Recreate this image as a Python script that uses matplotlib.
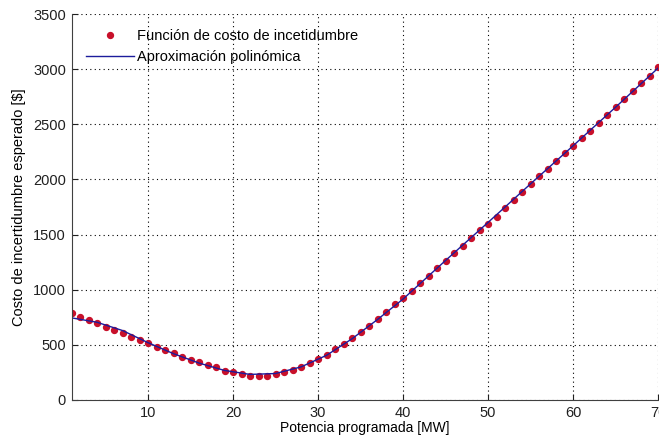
import numpy as np
import matplotlib.pyplot as plt

# expected uncertainty cost, one point per MW
potencia = np.arange(1, 71)
costo = [785, 752, 728, 695, 664, 634, 604, 574, 544, 517,
         481, 451, 424, 394, 367, 343, 316, 295, 262, 253,
         235, 219, 219, 219, 232, 250, 271, 301, 331, 373,
         412, 466, 511, 565, 613, 673, 734, 800, 869, 926,
         992, 1058, 1127, 1197, 1260, 1329, 1398, 1467, 1539, 1600,
         1663, 1740, 1810, 1884, 1957, 2028, 2098, 2168, 2239, 2303,
         2374, 2444, 2514, 2585, 2658, 2729, 2802, 2872, 2943, 3017]

# polynomial approximation sampled along the range
x_aprox = [1, 4, 7, 10, 13, 16, 19, 22, 25, 28, 31, 34, 37, 40,
           45, 50, 55, 60, 65, 70]
y_aprox = [745, 705, 630, 520, 420, 335, 268, 232, 240, 300, 405, 555, 730, 915,
           1265, 1610, 1960, 2305, 2655, 3010]

plt.rcParams['font.family'] = ['Liberation Sans', 'DejaVu Sans']
plt.rcParams['font.size'] = 10

fig = plt.figure(figsize=(6.59, 4.41), dpi=100)
ax = fig.add_axes([0.1085, 0.093, 0.8900, 0.875])

ax.plot(potencia, costo, '.', color='#c8102a', markersize=8.5,
        label='Función de costo de incetidumbre')
ax.plot(x_aprox, y_aprox, '-', color='#1c1c9c', lw=1.0,
        label='Aproximación polinómica')

ax.set_xlim(1, 70)
ax.set_ylim(0, 3500)
ax.set_xticks([10, 20, 30, 40, 50, 60, 70])
ax.set_yticks(np.arange(0, 3501, 500))
ax.grid(True, color='black', linestyle=(0, (1, 3)), linewidth=0.8)
ax.spines['top'].set_visible(False)
ax.spines['right'].set_visible(False)
for s in ['left', 'bottom']:
    ax.spines[s].set_color('#404040')
ax.tick_params(direction='in', length=4, colors='#202020', pad=4)
ax.tick_params(axis='y', pad=4, labelsize=10.5)
ax.tick_params(axis='x', labelsize=10.5)

ax.set_xlabel('Potencia programada [MW]', labelpad=1)
ax.set_ylabel('Costo de incertidumbre esperado [$]', labelpad=5, fontsize=10.5)

ax.legend(loc='upper left', frameon=False, handlelength=3.3,
          handletextpad=0.2, borderaxespad=0.6, labelspacing=0.5,
          fontsize=10.5, bbox_to_anchor=(0.0, 1.0))

fig.savefig('out.png', dpi=100)
